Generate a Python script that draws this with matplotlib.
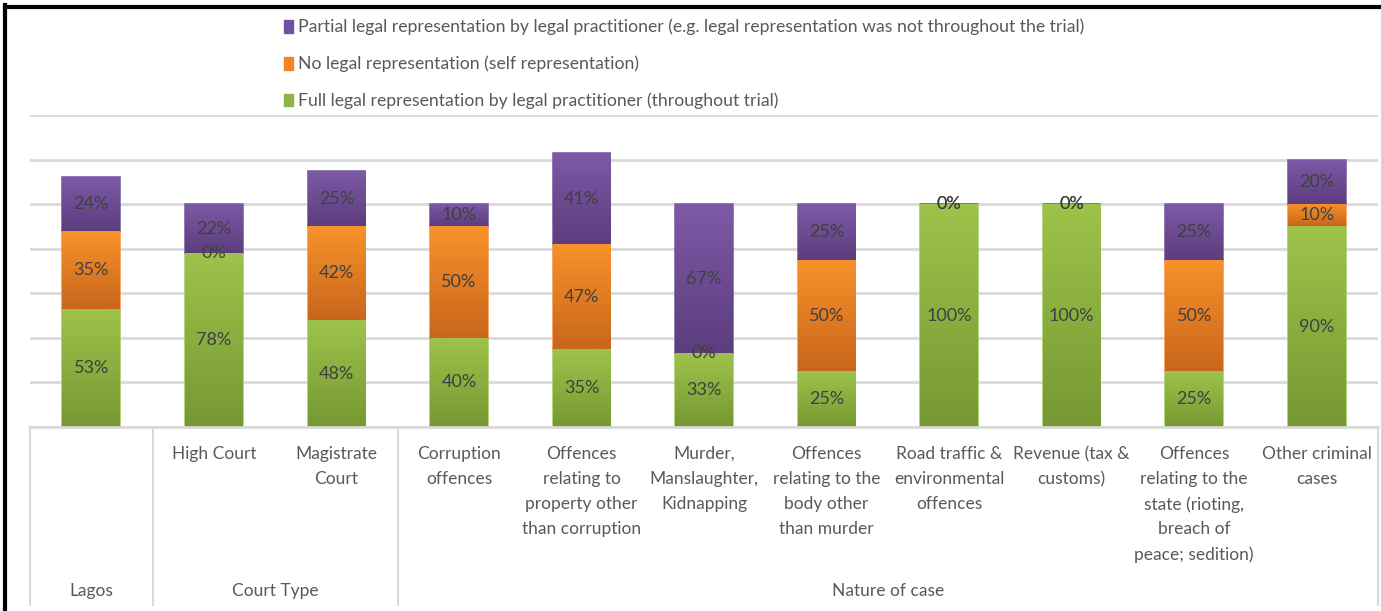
import numpy as np
import matplotlib
matplotlib.use("Agg")
import matplotlib.pyplot as plt
from matplotlib.lines import Line2D
from matplotlib.patches import Patch
import matplotlib.transforms as mtransforms

plt.rcParams['font.family'] = ['Lato', 'DejaVu Sans']

categories = ["", "High Court", "Magistrate\nCourt", "Corruption\noffences",
              "Offences\nrelating to\nproperty other\nthan corruption",
              "Murder,\nManslaughter,\nKidnapping",
              "Offences\nrelating to the\nbody other\nthan murder",
              "Road traffic &\nenvironmental\noffences",
              "Revenue (tax &\ncustoms)",
              "Offences\nrelating to the\nstate (rioting,\nbreach of\npeace; sedition)",
              "Other criminal\ncases"]
group_names = ["Lagos", "Court Type", "Nature of case"]
group_starts = [0, 1, 3]
group_ends = [0, 2, 10]

full = [53, 78, 48, 40, 35, 33, 25, 100, 100, 25, 90]
none_ = [35, 0, 42, 50, 47, 0, 50, 0, 0, 50, 10]
partial = [24, 22, 25, 10, 41, 67, 25, 0, 0, 25, 20]

series_names = ["Full legal representation by legal practitioner (throughout trial)",
                "No legal representation (self representation)",
                "Partial legal representation by legal practitioner (e.g. legal representation was not throughout the trial)"]
series_vals = [full, none_, partial]
grad_top = ["#9DC34A", "#F8922A", "#7D5AA6"]
grad_bot = ["#769833", "#C9661C", "#5C3D7E"]
edge_cols = ["#A9CC66", "#F79646", "#8064A2"]
legend_cols = ["#8DB545", "#F0822A", "#7152A0"]

W, H = 1381, 611
fig = plt.figure(figsize=(W / 100, H / 100), dpi=100)
ax = fig.add_axes([30 / W, 184 / H, 1348 / W, 312 / H])

n = len(categories)
x = np.arange(n)
ax.set_xlim(-0.5, n - 0.5)
ax.set_ylim(0, 140)
ax.set_yticks(np.arange(0, 141, 20))
ax.yaxis.grid(True, color="#D9D9D9", linewidth=2)
ax.set_axisbelow(True)
for s in ["left", "right", "top"]:
    ax.spines[s].set_visible(False)
ax.spines["bottom"].set_color("#D9D9D9")
ax.spines["bottom"].set_linewidth(2)
ax.tick_params(left=False, labelleft=False, bottom=False, labelbottom=False)

bw = 0.47
bottoms = np.zeros(n)
for si, vals in enumerate(series_vals):
    vals = np.array(vals, dtype=float)
    bars = ax.bar(x, vals, bw, bottom=bottoms, color=grad_top[si],
                  edgecolor=edge_cols[si], linewidth=1.2, zorder=2)
    c1 = np.array(matplotlib.colors.to_rgb(grad_top[si]))
    c2 = np.array(matplotlib.colors.to_rgb(grad_bot[si]))
    t = np.linspace(0, 1, 64)[:, None]
    grad = (c1[None, :] * (1 - t) + c2[None, :] * t)[:, None, :]
    for b, v, b0 in zip(bars, vals, bottoms):
        if v <= 0:
            continue
        im = ax.imshow(grad, extent=(b.get_x(), b.get_x() + b.get_width(), b0, b0 + v),
                       aspect="auto", origin="upper", zorder=2.5, interpolation="bilinear")
        im.set_clip_path(b)
    for xi, v, b0 in zip(x, vals, bottoms):
        ax.text(xi, b0 + v / 2, f"{int(v)}%", ha="center", va="center",
                fontsize=13, color="#404040", zorder=5)
    bottoms = bottoms + vals

# category axis labels
blend = mtransforms.blended_transform_factory(ax.transData, fig.transFigure)
for xi, lab in zip(x, categories):
    ax.text(xi, 1 - 446 / H, lab, ha="center", va="top", fontsize=12.5,
            color="#595959", transform=blend, linespacing=1.68)
for gname, g0, g1 in zip(group_names, group_starts, group_ends):
    ax.text((g0 + g1) / 2, 1 - 591 / H, gname, ha="center", va="center",
            fontsize=12.5, color="#595959", transform=blend)
for sep in [-0.5, 0.5, 2.5, n - 0.5]:
    ax.add_line(Line2D([sep, sep], [1 - 427 / H, 1 - 605 / H], color="#D9D9D9",
                       linewidth=1.5, transform=blend, clip_on=False))

# legend
handles = [Patch(facecolor=legend_cols[i], edgecolor=legend_cols[i]) for i in [2, 1, 0]]
labels = [series_names[i] for i in [2, 1, 0]]
fig.legend(handles, labels, loc="upper left", bbox_to_anchor=(268 / W, 1 - 3 / H),
           frameon=False, fontsize=12.7, labelcolor="#595959", handlelength=0.5,
           handleheight=0.75, handletextpad=0.3, labelspacing=1.15)

# outer frame (screenshot border)
fig.add_artist(Line2D([5 / W, 5 / W], [0, 1 - 5 / H], color="black", linewidth=3,
                      transform=fig.transFigure))
fig.add_artist(Line2D([5 / W, 1], [1 - 7 / H, 1 - 7 / H], color="black", linewidth=3,
                      transform=fig.transFigure))

fig.savefig("out.png", dpi=100)
